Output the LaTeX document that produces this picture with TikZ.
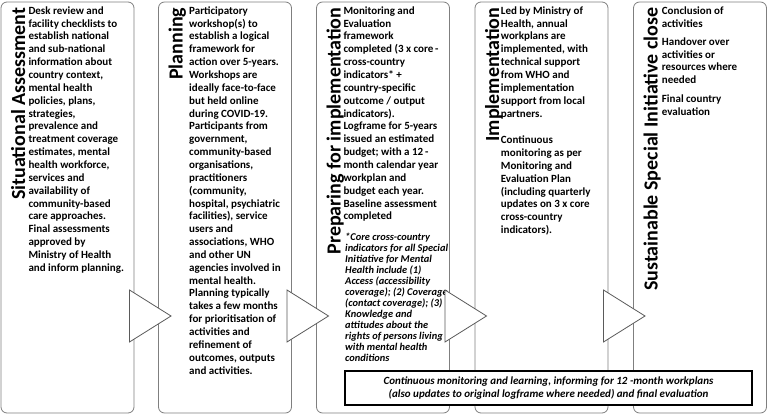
\documentclass[tikz,border=0pt]{standalone}
\usepackage{fontspec}
\setmainfont{Carlito}
\usetikzlibrary{calc}
\definecolor{boxgray}{RGB}{127,127,127}
\definecolor{trigray}{RGB}{90,90,90}
\newcommand{\textblock}[1]{\vtop{\hsize=220pt\parindent=0pt\raggedright\leavevmode #1\par}}
\tikzset{
  panel/.style={draw=boxgray, line width=0.8pt, rounded corners=6pt, fill=white,
    minimum width=133pt, minimum height=411pt, inner sep=0pt, outer sep=0pt, anchor=north west},
  arrowtri/.style={draw=trigray, line width=0.8pt, fill=white, line join=miter},
  title/.style={rotate=90, anchor=base east, inner sep=0pt,
    font=\fontsize{20}{24}\selectfont\bfseries},
  body/.style={anchor=base west, inner sep=0pt, font=\fontsize{11}{12.85}\selectfont\bfseries},
  note/.style={anchor=base west, inner sep=0pt, font=\fontsize{10.4}{11}\selectfont\bfseries\itshape},
  monbox/.style={draw=black, line width=2pt, fill=white, inner sep=0pt, anchor=north west,
    minimum width=407pt, minimum height=34pt, align=center,
    font=\fontsize{11}{13}\selectfont\bfseries\itshape}
}
\begin{document}
\begin{tikzpicture}[x=1pt,y=1pt]
\useasboundingbox (0,0) rectangle (769,-417);
% panels
\node[panel] (p1) at (1,-2) {};
\node[panel] (p2) at (158.5,-2) {};
\node[panel] (p3) at (316.5,-2) {};
\node[panel] (p4) at (475,-2) {};
\node[panel] (p5) at (633.5,-2) {};
% titles
\node[title] (t1) at ($(p1.north west)+(24,-5.5)$) {Situational Assessment};
\node[title] (t2) at ($(p2.north west)+(24,-5.5)$) {Planning};
\node[title] (t3) at ($(p3.north west)+(24,-5.5)$) {Preparing for implementation};
\node[title] (t4) at ($(p4.north west)+(24,-5.5)$) {Implementation};
\node[title] (t5) at ($(p5.north west)+(24,-5.5)$) {Sustainable Special Initiative close};
% body texts
\node[body] (b1) at (28.3,-14.3) {\textblock{Desk review and\\
facility checklists to\\
establish national\\
and sub-national\\
information about\\
country context,\\
mental health\\
policies, plans,\\
strategies,\\
prevalence and\\
treatment coverage\\
estimates, mental\\
health workforce,\\
services and\\
availability of\\
community-based\\
care approaches.\\
Final assessments\\
approved by\\
Ministry of Health\\
and inform planning.}};
\node[body] (b2) at (189,-14.3) {\textblock{Participatory\\
workshop(s) to\\
establish a logical\\
framework for\\
action over 5-years.\\
Workshops are\\
ideally face-to-face\\
but held online\\
during COVID-19.\\
Participants from\\
government,\\
community-based\\
organisations,\\
practitioners\\
(community,\\
hospital, psychiatric\\
facilities), service\\
users and\\
associations, WHO\\
and other UN\\
agencies involved in\\
mental health.\\
Planning typically\\
takes a few months\\
for prioritisation of\\
activities and\\
refinement of\\
outcomes, outputs\\
and activities.}};
\node[body] (b3) at (343.3,-14.3) {\textblock{Monitoring and\\
Evaluation\\
framework\\
completed (3 x core\,-\\
cross-country\\
indicators* +\\
country-specific\\
outcome / output\\
indicators).\\
Logframe for 5-years\\
issued an estimated\\
budget; with a 12\,-\\
month calendar year\\
workplan and\\
budget each year.\\
Baseline assessment\\
completed}};
\node[note] (n3) at (345,-240.8) {\textblock{*Core cross-country\\
indicators for all Special\\
Initiative for Mental\\
Health include (1)\\
Access (accessibility\\
coverage); (2) Coverage\\
(contact coverage); (3)\\
Knowledge and\\
attitudes about the\\
rights of persons living\\
with mental health\\
conditions}};
\node[body] (b4) at (500.7,-14.3) {\textblock{Led by Ministry of\\
Health, annual\\
workplans are\\
implemented, with\\
technical support\\
from WHO and\\
implementation\\
support from local\\
partners.\\[13.8pt]
Continuous\\
monitoring as per\\
Monitoring and\\
Evaluation Plan\\
(including quarterly\\
updates on 3 x core\\
cross-country\\
indicators).}};
\node[body] (b5) at (661.7,-14.3) {\textblock{Conclusion of\\
activities\\[5.3pt]
Handover over\\
activities or\\
resources where\\
needed\\[5.5pt]
Final country\\
evaluation}};
% arrow triangles
\foreach \p in {p1,p2,p3,p4}{
  \draw[arrowtri] ($(\p.north west)+(128.5,-288)$) -- ($(\p.north west)+(170,-314)$)
    -- ($(\p.north west)+(128.5,-340)$) -- cycle;
}
% bottom box
\node[monbox] (mon) at (344,-370) {Continuous monitoring and learning, informing for 12 -month workplans\\
(also updates to original logframe where needed) and final evaluation};
\end{tikzpicture}
\end{document}
